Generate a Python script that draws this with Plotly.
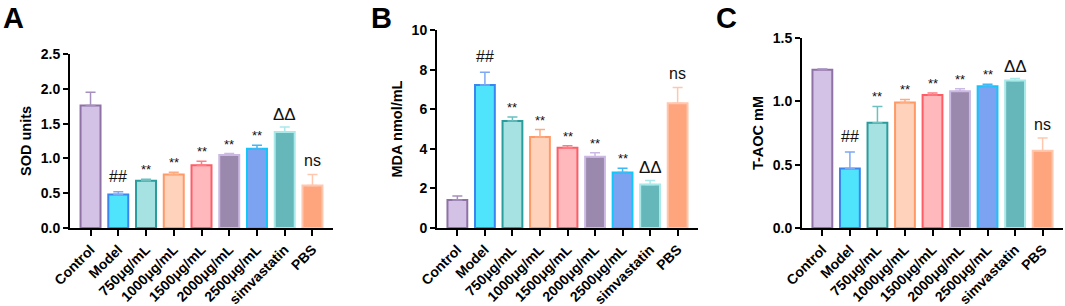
import plotly.graph_objects as go

categories = ["Control", "Model", "750μg/mL", "1000μg/mL", "1500μg/mL",
              "2000μg/mL", "2500μg/mL", "simvastatin", "PBS"]

sod_mean = [1.76, 0.48, 0.68, 0.77, 0.90, 1.05, 1.14, 1.38, 0.61]
sod_top = [1.95, 0.52, 0.70, 0.80, 0.96, 1.07, 1.19, 1.45, 0.77]
sod_marks = ["", "##", "**", "**", "**", "**", "**", "ΔΔ", "ns"]

mda_mean = [1.42, 7.22, 5.40, 4.60, 4.05, 3.60, 2.80, 2.20, 6.30]
mda_top = [1.62, 7.87, 5.60, 4.97, 4.15, 3.80, 3.02, 2.40, 7.10]
mda_marks = ["", "##", "**", "**", "**", "**", "**", "ΔΔ", "ns"]

taoc_mean = [1.25, 0.47, 0.83, 0.99, 1.05, 1.08, 1.12, 1.165, 0.61]
taoc_top = [1.255, 0.60, 0.96, 1.015, 1.065, 1.10, 1.135, 1.18, 0.71]
taoc_marks = ["", "##", "**", "**", "**", "**", "**", "ΔΔ", "ns"]

fill_colors = ["#d4c2e6", "#4fe3fc", "#a6e2e2", "#ffd2bc", "#ffb9bd",
               "#9b88ad", "#7ba3f2", "#66b7ba", "#ffa57e"]
line_colors = ["#8e72a6", "#3a86f0", "#2a9c9c", "#ff9a66", "#ff5c66",
               "#cbb9e3", "#12c6fa", "#a9e9ea", "#ffc7ae"]
err_colors = ["#a58fbd", "#7fa8f4", "#6cc0c0", "#ffab80", "#ff7c84",
              "#cbb9e3", "#3fb8f6", "#a9e9ea", "#ffc7ae"]

W, H = 1065, 306
FONT = "Liberation Sans, Arial, sans-serif"
MARK_STYLE = {"##": (16, 5), "**": (13, 0), "ΔΔ": (17, 1), "ns": (16, 3)}

panels = [
    dict(mean=sod_mean, top=sod_top, marks=sod_marks, title="SOD units",
         px=(70, 333), ytop=54, yr=2.5, dtick=0.5, fmt=".1f", letter="A", lx=1),
    dict(mean=mda_mean, top=mda_top, marks=mda_marks, title="MDA nmol/mL",
         px=(437, 698), ytop=30, yr=10, dtick=2, fmt="d", letter="B", lx=369),
    dict(mean=taoc_mean, top=taoc_top, marks=taoc_marks, title="T-AOC mM",
         px=(802, 1063), ytop=38, yr=1.5, dtick=0.5, fmt=".1f", letter="C", lx=714),
]

fig = go.Figure()
annotations = []
layout = {}
ybot = 228
for i, p in enumerate(panels):
    sfx = "" if i == 0 else str(i + 1)
    xa, ya = "x" + sfx, "y" + sfx
    for j, c in enumerate(categories):
        fig.add_trace(go.Bar(
            x=[c], y=[p["mean"][j]], xaxis=xa, yaxis=ya, width=0.72,
            marker=dict(color=fill_colors[j], line=dict(color=line_colors[j], width=2)),
            error_y=dict(type="data", symmetric=False,
                         array=[p["top"][j] - p["mean"][j]], arrayminus=[0],
                         color=err_colors[j], thickness=1.5, width=5),
            showlegend=False, hoverinfo="skip"))
        m = p["marks"][j]
        if m:
            size, shift = MARK_STYLE[m]
            annotations.append(dict(
                x=c, y=p["top"][j], xref=xa, yref=ya, text=m,
                showarrow=False, yanchor="bottom", yshift=shift,
                font=dict(family=FONT, size=size, color="#111111")))
    annotations.append(dict(
        x=p["lx"] / W, y=1.0, xref="paper", yref="paper", text="<b>" + p["letter"] + "</b>",
        showarrow=False, xanchor="left", yanchor="top",
        font=dict(family=FONT, size=29, color="black")))
    layout["xaxis" + sfx] = dict(
        domain=[p["px"][0] / W, p["px"][1] / W], anchor=ya,
        categoryorder="array", categoryarray=categories,
        range=[-0.74, 8.74], showline=True, linecolor="black", linewidth=2,
        ticks="outside", ticklen=6, tickwidth=1.5, tickcolor="black",
        tickangle=-45, showgrid=False, zeroline=False,
        tickfont=dict(family=FONT, size=14, color="black", weight="bold"))
    layout["yaxis" + sfx] = dict(
        domain=[1 - ybot / H, 1 - p["ytop"] / H], anchor=xa,
        range=[0, p["yr"]], dtick=p["dtick"], tickformat=p["fmt"],
        showline=True, linecolor="black", linewidth=2,
        ticks="outside", ticklen=5, tickwidth=1.5, tickcolor="black",
        showgrid=False, zeroline=False,
        tickfont=dict(family=FONT, size=14, color="black", weight="bold"),
        title=dict(text=p["title"], standoff=6,
                   font=dict(family=FONT, size=14.5, color="black", weight="bold")))

fig.update_layout(
    width=W, height=H, margin=dict(l=0, r=0, t=0, b=0, autoexpand=False),
    plot_bgcolor="white", paper_bgcolor="white", barmode="overlay",
    bargap=0.28, annotations=annotations, hovermode=False, **layout)

fig.write_html("out.html", config={"displayModeBar": False},
               post_script="document.body.style.margin='0';")
